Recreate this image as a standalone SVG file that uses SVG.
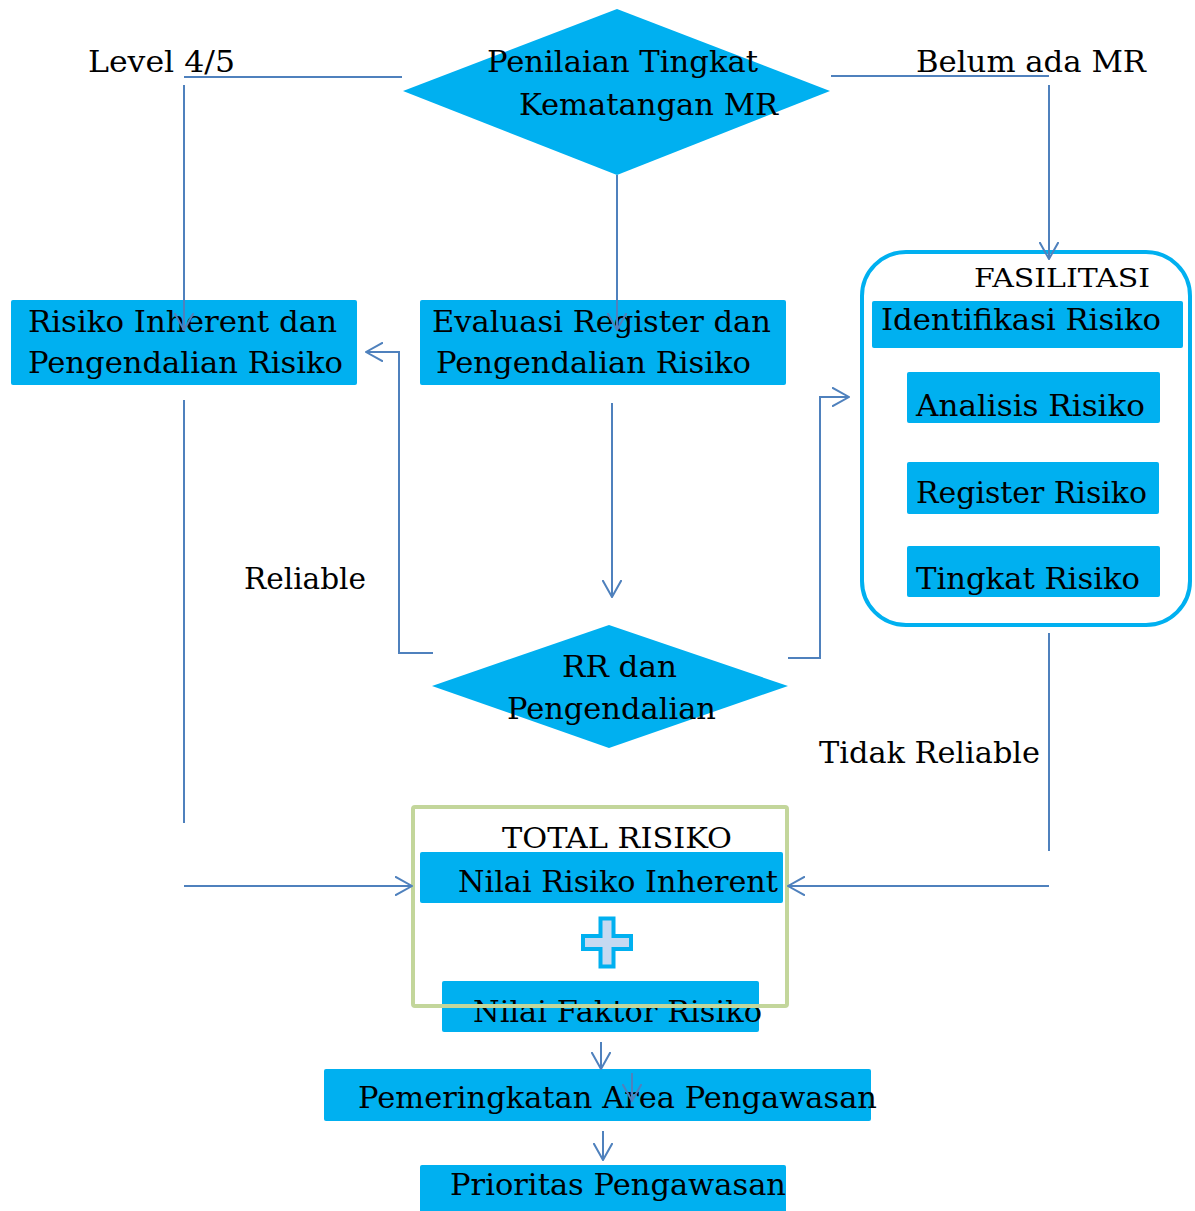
<svg xmlns="http://www.w3.org/2000/svg" width="1195" height="1211" viewBox="0 0 1195 1211">
<style>
  .box{fill:#00B0F0;}
  .t{font-family:"DejaVu Serif","Liberation Serif",serif;font-size:30px;fill:#000;}
  .s{font-size:26px;}
  .c{fill:none;stroke:#4F81BD;stroke-width:2;}
</style>
<defs>
  <marker id="arr" viewBox="0 0 18 20" refX="17" refY="10" markerWidth="18" markerHeight="20" markerUnits="userSpaceOnUse" orient="auto">
    <path d="M0,0.5 L17,10 L0,19.5" fill="none" stroke="#4F81BD" stroke-width="2"/>
  </marker>
</defs>
<rect width="1195" height="1211" fill="#fff"/>

<g id="penilaian">
  <polygon class="box" points="617,9 830,91 617,175 403,91"/>
  <text class="t" x="487" y="72" textLength="271" lengthAdjust="spacingAndGlyphs">Penilaian Tingkat</text>
  <text class="t" x="519" y="115" textLength="259" lengthAdjust="spacingAndGlyphs">Kematangan MR</text>
</g>

<g id="labels">
  <text class="t" x="88" y="72" textLength="147" lengthAdjust="spacingAndGlyphs">Level 4/5</text>
  <text class="t" x="916" y="72" textLength="230" lengthAdjust="spacingAndGlyphs">Belum ada MR</text>
  <text class="t" x="244" y="589" textLength="122" lengthAdjust="spacingAndGlyphs">Reliable</text>
  <text class="t" x="819" y="763" textLength="221" lengthAdjust="spacingAndGlyphs">Tidak Reliable</text>
</g>

<g id="risiko-inherent">
  <rect class="box" x="11" y="300" width="346" height="85" rx="2"/>
  <text class="t" x="28" y="332" textLength="309" lengthAdjust="spacingAndGlyphs">Risiko Inherent dan</text>
  <text class="t" x="28" y="373" textLength="315" lengthAdjust="spacingAndGlyphs">Pengendalian Risiko</text>
</g>

<g id="evaluasi">
  <rect class="box" x="420" y="300" width="366" height="85" rx="2"/>
  <text class="t" x="432" y="332" textLength="339" lengthAdjust="spacingAndGlyphs">Evaluasi Register dan</text>
  <text class="t" x="436" y="373" textLength="315" lengthAdjust="spacingAndGlyphs">Pengendalian Risiko</text>
</g>

<g id="rr">
  <polygon class="box" points="609,625 788,686 609,748 432,686"/>
  <text class="t" x="562" y="677" textLength="115" lengthAdjust="spacingAndGlyphs">RR dan</text>
  <text class="t" x="507" y="719" textLength="209" lengthAdjust="spacingAndGlyphs">Pengendalian</text>
</g>

<g id="fasilitasi">
  <rect x="862" y="252" width="328" height="373" rx="44" fill="none" stroke="#00B0F0" stroke-width="4"/>
  <text class="t s" x="974" y="287" textLength="176" lengthAdjust="spacingAndGlyphs">FASILITASI</text>
  <g id="identifikasi">
    <rect class="box" x="872" y="301" width="311" height="47" rx="2"/>
    <text class="t" x="881" y="330" textLength="280" lengthAdjust="spacingAndGlyphs">Identifikasi Risiko</text>
  </g>
  <g id="analisis">
    <rect class="box" x="907" y="372" width="253" height="51" rx="2"/>
    <text class="t" x="916" y="416" textLength="229" lengthAdjust="spacingAndGlyphs">Analisis Risiko</text>
  </g>
  <g id="register">
    <rect class="box" x="907" y="462" width="252" height="52" rx="2"/>
    <text class="t" x="916" y="503" textLength="231" lengthAdjust="spacingAndGlyphs">Register Risiko</text>
  </g>
  <g id="tingkat">
    <rect class="box" x="907" y="546" width="253" height="51" rx="2"/>
    <text class="t" x="916" y="589" textLength="224" lengthAdjust="spacingAndGlyphs">Tingkat Risiko</text>
  </g>
</g>

<g id="nilai-inherent">
  <rect class="box" x="420" y="852" width="363" height="51" rx="2"/>
  <text class="t" x="458" y="892" textLength="320" lengthAdjust="spacingAndGlyphs">Nilai Risiko Inherent</text>
</g>

<g id="plus">
  <path d="M600.5,918.5 h13 v17.5 h17.5 v13 h-17.5 v17.5 h-13 v-17.5 h-17.5 v-13 h17.5 z" fill="#C6D9F1" stroke="#00B0F0" stroke-width="4"/>
</g>

<g id="nilai-faktor">
  <rect class="box" x="442" y="981" width="317" height="51" rx="2"/>
  <text class="t" x="473" y="1022" textLength="289" lengthAdjust="spacingAndGlyphs">Nilai Faktor Risiko</text>
</g>

<g id="total-risiko">
  <rect x="413" y="807" width="374" height="199" rx="2" fill="none" stroke="#C3D69B" stroke-width="4"/>
  <text class="t" x="502" y="848" textLength="230" lengthAdjust="spacingAndGlyphs" style="font-size:28px">TOTAL RISIKO</text>
</g>

<g id="pemeringkatan">
  <rect class="box" x="324" y="1069" width="547" height="52" rx="2"/>
  <text class="t" x="358" y="1108" textLength="519" lengthAdjust="spacingAndGlyphs">Pemeringkatan Area Pengawasan</text>
</g>

<g id="prioritas">
  <rect class="box" x="420" y="1165" width="366" height="50" rx="2"/>
  <text class="t" x="450" y="1195" textLength="336" lengthAdjust="spacingAndGlyphs">Prioritas Pengawasan</text>
</g>

<g id="connectors">
  <line class="c" x1="402" y1="77" x2="184" y2="77"/>
  <line class="c" x1="184" y1="85" x2="184" y2="330" marker-end="url(#arr)"/>
  <line class="c" x1="831" y1="76" x2="1049" y2="76"/>
  <line class="c" x1="1049" y1="85" x2="1049" y2="259" marker-end="url(#arr)"/>
  <line class="c" x1="617" y1="175" x2="617" y2="330" marker-end="url(#arr)"/>
  <line class="c" x1="612" y1="403" x2="612" y2="597" marker-end="url(#arr)"/>
  <polyline class="c" points="433,653 399,653 399,352 366,352" marker-end="url(#arr)"/>
  <polyline class="c" points="788,658 820,658 820,397 849,397" marker-end="url(#arr)"/>
  <line class="c" x1="184" y1="400" x2="184" y2="823"/>
  <line class="c" x1="184" y1="886" x2="412" y2="886" marker-end="url(#arr)"/>
  <line class="c" x1="1049" y1="633" x2="1049" y2="851"/>
  <line class="c" x1="1049" y1="886" x2="788" y2="886" marker-end="url(#arr)"/>
  <line class="c" x1="601" y1="1042" x2="601" y2="1069" marker-end="url(#arr)"/>
  <line class="c" x1="632" y1="1073" x2="632" y2="1101" marker-end="url(#arr)"/>
  <line class="c" x1="603" y1="1131" x2="603" y2="1160" marker-end="url(#arr)"/>
</g>
</svg>
